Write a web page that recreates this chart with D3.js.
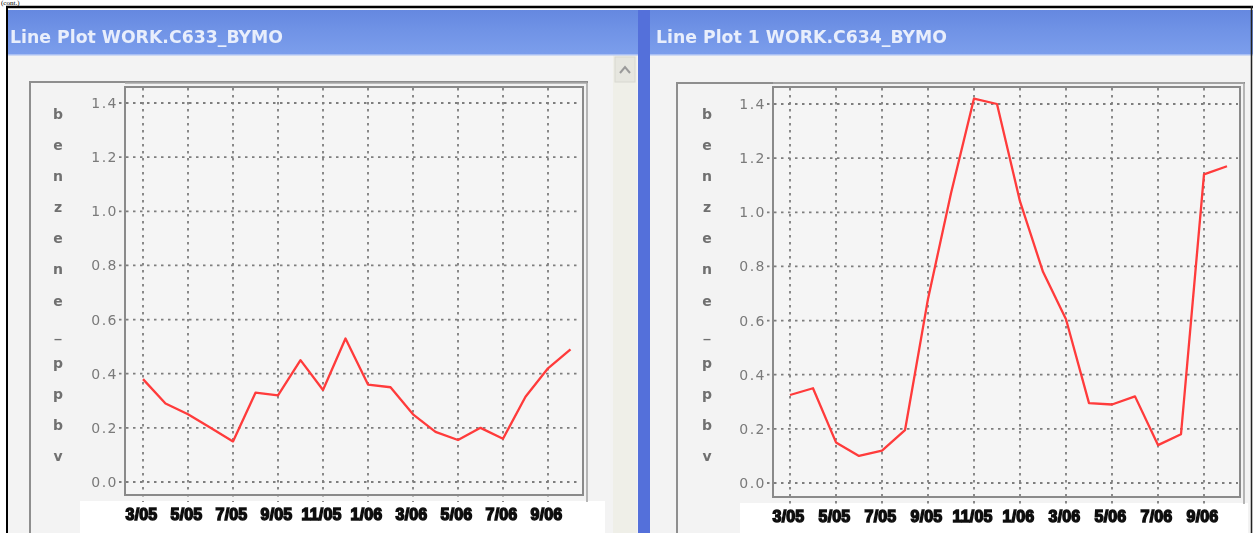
<!DOCTYPE html>
<html>
<head>
<meta charset="utf-8">
<script src="https://cdn.jsdelivr.net/npm/d3@7"></script>
<style>
  html, body { margin: 0; padding: 0; background: #fff; }
  svg { display: block; }
</style>
</head>
<body>
<svg id="chart" width="1253" height="533"></svg>
<script>
// Monthly benzene averages (ppbv), March 2005 - October 2006
const months = ["3/05","4/05","5/05","6/05","7/05","8/05","9/05","10/05","11/05","12/05",
                "1/06","2/06","3/06","4/06","5/06","6/06","7/06","8/06","9/06","10/06"];
const tickLabels = ["3/05","5/05","7/05","9/05","11/05","1/06","3/06","5/06","7/06","9/06"];
const yTicks = [0.0, 0.2, 0.4, 0.6, 0.8, 1.0, 1.2, 1.4];
const c633Benzene = [0.38, 0.29, 0.25, 0.20, 0.15, 0.33, 0.32, 0.45, 0.34, 0.53,
                     0.36, 0.35, 0.25, 0.185, 0.155, 0.20, 0.16, 0.315, 0.42, 0.49];
const c634Benzene = [0.325, 0.35, 0.15, 0.10, 0.12, 0.195, 0.68, 1.07, 1.42, 1.40,
                     1.04, 0.78, 0.605, 0.295, 0.29, 0.32, 0.14, 0.18, 1.14, 1.17];
const axisTitle = "benzene_ppbv";
const panelTitles = ["Line Plot WORK.C633_BYMO", "Line Plot 1 WORK.C634_BYMO"];

const svg = d3.select("#chart");

const defs = svg.append("defs");
const grad = defs.append("linearGradient").attr("id", "titlebar").attr("x1", 0).attr("y1", 0).attr("x2", 0).attr("y2", 1);
grad.append("stop").attr("offset", "0%").attr("stop-color", "#6588e0");
grad.append("stop").attr("offset", "45%").attr("stop-color", "#7093e6");
grad.append("stop").attr("offset", "100%").attr("stop-color", "#7c9eec");
defs.append("filter").attr("id", "soft").append("feGaussianBlur").attr("stdDeviation", 0.5);
defs.append("filter").attr("id", "softer").append("feGaussianBlur").attr("stdDeviation", 0.3);

// caption fragment above the window
svg.append("text").attr("x", 1).attr("y", 5)
  .attr("font-family", "Liberation Serif").attr("font-size", 7)
  .attr("fill", "#000").text("(cont.)");

// window backgrounds
svg.append("rect").attr("x", 8).attr("y", 10).attr("width", 630).attr("height", 523).attr("fill", "#f3f3f3");
svg.append("rect").attr("x", 650).attr("y", 10).attr("width", 603).attr("height", 523).attr("fill", "#f3f3f3");

// scrollbar on the left window
svg.append("rect").attr("x", 613).attr("y", 55).attr("width", 24).attr("height", 478).attr("fill", "#efefe8");
svg.append("rect").attr("x", 615).attr("y", 57).attr("width", 20).attr("height", 25).attr("fill", "#e6e6df").attr("stroke", "#d8d8d0");
svg.append("path").attr("d", "M620,73 L625,67 L630,73").attr("fill", "none").attr("stroke", "#9a9a9a").attr("stroke-width", 2);

// blue splitter between the windows
svg.append("rect").attr("x", 638).attr("y", 10).attr("width", 12).attr("height", 523).attr("fill", "#5470da");

// title bars
[[8, 630], [650, 603]].forEach(([x, w], i) => {
  svg.append("rect").attr("x", x).attr("y", 10).attr("width", w).attr("height", 45).attr("fill", "url(#titlebar)");
  svg.append("rect").attr("x", x).attr("y", 54).attr("width", w).attr("height", 1.5).attr("fill", "#a9bff3");
  const len = i === 0 ? 273 : 291;
  svg.append("text")
    .attr("x", x + (i === 0 ? 2 : 6)).attr("y", 43)
    .attr("font-family", "DejaVu Sans Condensed, DejaVu Sans, sans-serif")
    .attr("font-weight", "bold").attr("font-size", 18)
    .attr("fill", "#e8eefc")
    .attr("textLength", len).attr("lengthAdjust", "spacingAndGlyphs")
    .attr("filter", "url(#softer)")
    .text(panelTitles[i]);
});

// outer black border
svg.append("line").attr("x1", 6).attr("x2", 1253).attr("y1", 7).attr("y2", 7).attr("stroke", "#000").attr("stroke-width", 2.5);
svg.append("line").attr("x1", 7).attr("x2", 7).attr("y1", 6).attr("y2", 533).attr("stroke", "#000").attr("stroke-width", 2);

function drawPanel(cfg, values) {
  const g = svg.append("g");

  // outer plot frame
  g.append("path")
    .attr("d", `M${cfg.frameX},533 V${cfg.frameTop} H${cfg.plotX1 + 5}`)
    .attr("fill", "none").attr("stroke", "#8e8e8e").attr("stroke-width", 2);

  // white strip behind the month labels
  g.append("rect").attr("x", cfg.labelBandX0).attr("y", cfg.plotY1 + 6)
    .attr("width", cfg.labelBandX1 - cfg.labelBandX0).attr("height", 533 - cfg.plotY1 - 6)
    .attr("fill", "#ffffff");

  const x = d3.scaleLinear().domain([0, 18]).range(cfg.xRange);
  const y = d3.scaleLinear().domain([0, 1.4]).range(cfg.yRange);

  const tickIdx = tickLabels.map(t => months.indexOf(t));

  // plot area
  g.append("rect").attr("x", cfg.plotX0).attr("y", cfg.plotY0)
    .attr("width", cfg.plotX1 - cfg.plotX0).attr("height", cfg.plotY1 - cfg.plotY0)
    .attr("fill", "#f5f5f5");

  // dashed grid
  const grid = g.append("g").attr("stroke", "#7e7e7e").attr("stroke-width", 1.8)
    .attr("stroke-dasharray", "2.5,4.5").attr("filter", "url(#softer)");
  grid.selectAll(".gx").data(tickIdx).join("line")
    .attr("x1", d => x(d)).attr("x2", d => x(d))
    .attr("y1", cfg.plotY0 + 1).attr("y2", cfg.plotY1 + 7);
  grid.selectAll(".gy").data(yTicks).join("line")
    .attr("x1", cfg.plotX0 - 6).attr("x2", cfg.plotX1 - 2)
    .attr("y1", d => y(d)).attr("y2", d => y(d));

  // frame of plot area
  g.append("rect").attr("x", cfg.plotX0).attr("y", cfg.plotY0)
    .attr("width", cfg.plotX1 - cfg.plotX0).attr("height", cfg.plotY1 - cfg.plotY0)
    .attr("fill", "none").attr("stroke", "#8a8a8a").attr("stroke-width", 2);
  g.append("line").attr("x1", cfg.plotX1 + 4).attr("x2", cfg.plotX1 + 4)
    .attr("y1", cfg.plotY0 - 4).attr("y2", cfg.plotY1 + 7)
    .attr("stroke", "#a0a0a0").attr("stroke-width", 1.5);
  g.append("line").attr("x1", cfg.plotX0).attr("x2", cfg.plotX1 + 4)
    .attr("y1", cfg.plotY0 - 4).attr("y2", cfg.plotY0 - 4)
    .attr("stroke", "#a8a8a8").attr("stroke-width", 1.5);

  // y axis labels
  const yAxis = d3.axisLeft(y).tickValues(yTicks).tickSize(0).tickPadding(6)
    .tickFormat(d3.format(".1f"));
  const ya = g.append("g").attr("transform", `translate(${cfg.plotX0 - 1},0)`).call(yAxis);
  ya.select(".domain").remove();
  ya.selectAll("text")
    .attr("font-family", "DejaVu Sans, sans-serif").attr("font-size", 14)
    .attr("letter-spacing", 1.5).attr("fill", "#7a7a7a").attr("filter", "url(#softer)");

  // x axis labels
  const xAxis = d3.axisBottom(x).tickValues(tickIdx).tickSize(0).tickPadding(0)
    .tickFormat(i => months[i]);
  const xa = g.append("g").attr("transform", `translate(-2,${cfg.plotY1 + 14})`).call(xAxis);
  xa.select(".domain").remove();
  xa.selectAll("text")
    .attr("font-family", "Liberation Sans, Arial, sans-serif").attr("font-weight", "bold")
    .attr("font-size", 16).attr("fill", "#111").attr("stroke", "#111").attr("stroke-width", 1.4)
    .attr("letter-spacing", 0.2)
    .attr("filter", "url(#soft)");

  // vertical axis title, one letter per row
  const letters = axisTitle.split("");
  const ly = d3.scalePoint().domain(d3.range(letters.length)).range([115, 457]);
  g.append("g").selectAll("text").data(letters).join("text")
    .attr("x", cfg.titleX).attr("y", (d, i) => ly(i))
    .attr("text-anchor", "middle").attr("dominant-baseline", "middle")
    .attr("font-family", "DejaVu Sans, sans-serif").attr("font-size", 14)
    .attr("font-weight", "bold")
    .attr("fill", "#707070").attr("filter", "url(#softer)")
    .text(d => d);

  // data line
  const line = d3.line().x((d, i) => x(i)).y(d => y(d));
  g.append("path").datum(values)
    .attr("d", line).attr("fill", "none")
    .attr("stroke", "#ff3a3a").attr("stroke-width", 2.3)
    .attr("stroke-linejoin", "round")
    .attr("filter", "url(#softer)");
}

drawPanel({
  frameX: 30, frameTop: 82,
  plotX0: 125, plotX1: 583, plotY0: 87, plotY1: 495,
  xRange: [143, 548], yRange: [482, 103],
  titleX: 58, labelBandX0: 80, labelBandX1: 605
}, c633Benzene);

drawPanel({
  frameX: 677, frameTop: 83,
  plotX0: 773, plotX1: 1240, plotY0: 87, plotY1: 497,
  xRange: [790, 1204], yRange: [483, 104],
  titleX: 707, labelBandX0: 740, labelBandX1: 1248
}, c634Benzene);

svg.append("line").attr("x1", 1251.5).attr("x2", 1251.5).attr("y1", 6).attr("y2", 533).attr("stroke", "#222").attr("stroke-width", 1.5);
</script>
</body>
</html>
